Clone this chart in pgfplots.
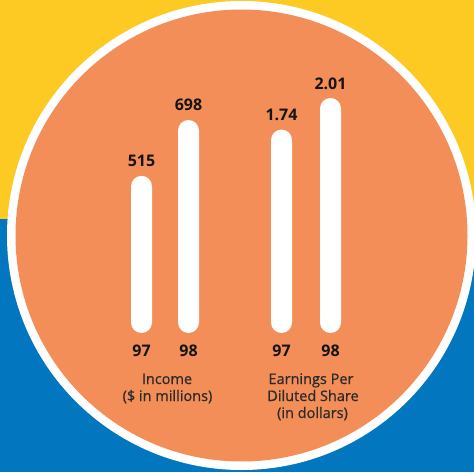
\documentclass[border=0pt]{standalone}
\usepackage{pgfplots}
\pgfplotsset{compat=1.18}
\usepackage{fontspec}
\setmainfont{Open Sans}
\newfontfamily\labfont[FakeBold=0.6]{Open Sans}
\definecolor{yellowc}{HTML}{FDC923}
\definecolor{bluec}{HTML}{0277BF}
\definecolor{orangec}{HTML}{F38E58}
\definecolor{labc}{HTML}{2A2A2A}
\definecolor{numc}{HTML}{141414}
\begin{document}
\begin{tikzpicture}
\begin{scope}
\clip (0pt,0pt) rectangle (474pt,472pt);
\fill[yellowc] (0pt,253pt) rectangle (474pt,472pt);
\fill[bluec] (0pt,0pt) rectangle (474pt,253pt);
\fill[white] (241.5pt,236.5pt) circle (234.5pt);
\fill[orangec] (241.5pt,236.5pt) circle (226pt);
\end{scope}
\pgfplotsset{
  barstyle/.style={
    scale only axis, width=474pt, xmin=0, xmax=474, ymin=0,
    at={(0pt,139pt)}, anchor=south west, clip=false,
    axis line style={draw=none}, ytick=\empty,
    xtick style={draw=none},
    xticklabel style={anchor=base, yshift=-23pt, font=\fontsize{16}{19}\selectfont\bfseries, text=numc},
    nodes near coords, point meta=explicit symbolic,
    nodes near coords style={anchor=base, yshift=9pt, font=\fontsize{16}{19}\selectfont\bfseries, text=numc},
  },
  roundbar/.style={ybar, bar width=21pt, fill=white, draw=none, rounded corners=10.5pt},
}
% Income
\begin{axis}[barstyle, height=213pt, ymax=698, xtick={141.5,188.5}, xticklabels={97,98}]
\addplot[roundbar] coordinates {(141.5,515) [515] (188.5,698) [698]};
\end{axis}
% EPS
\begin{axis}[barstyle, height=235pt, ymax=2.01, xtick={281.5,330.5}, xticklabels={97,98}]
\addplot[roundbar] coordinates {(281.5,1.74) [1.74] (330.5,2.01) [2.01]};
\end{axis}
\tikzset{lab/.style={anchor=base, text=labc, inner sep=0pt, font=\labfont\fontsize{14.5}{17}\selectfont}}
\node[lab] at (167pt,88pt) {Income};
\node[lab] at (167.5pt,71pt) {(\$ in millions)};
\node[lab] at (311pt,88pt) {Earnings Per};
\node[lab] at (313pt,71pt) {Diluted Share};
\node[lab] at (312.5pt,54pt) {(in dollars)};
\pgfresetboundingbox
\useasboundingbox (0pt,0pt) rectangle (474pt,472pt);
\end{tikzpicture}
\end{document}
